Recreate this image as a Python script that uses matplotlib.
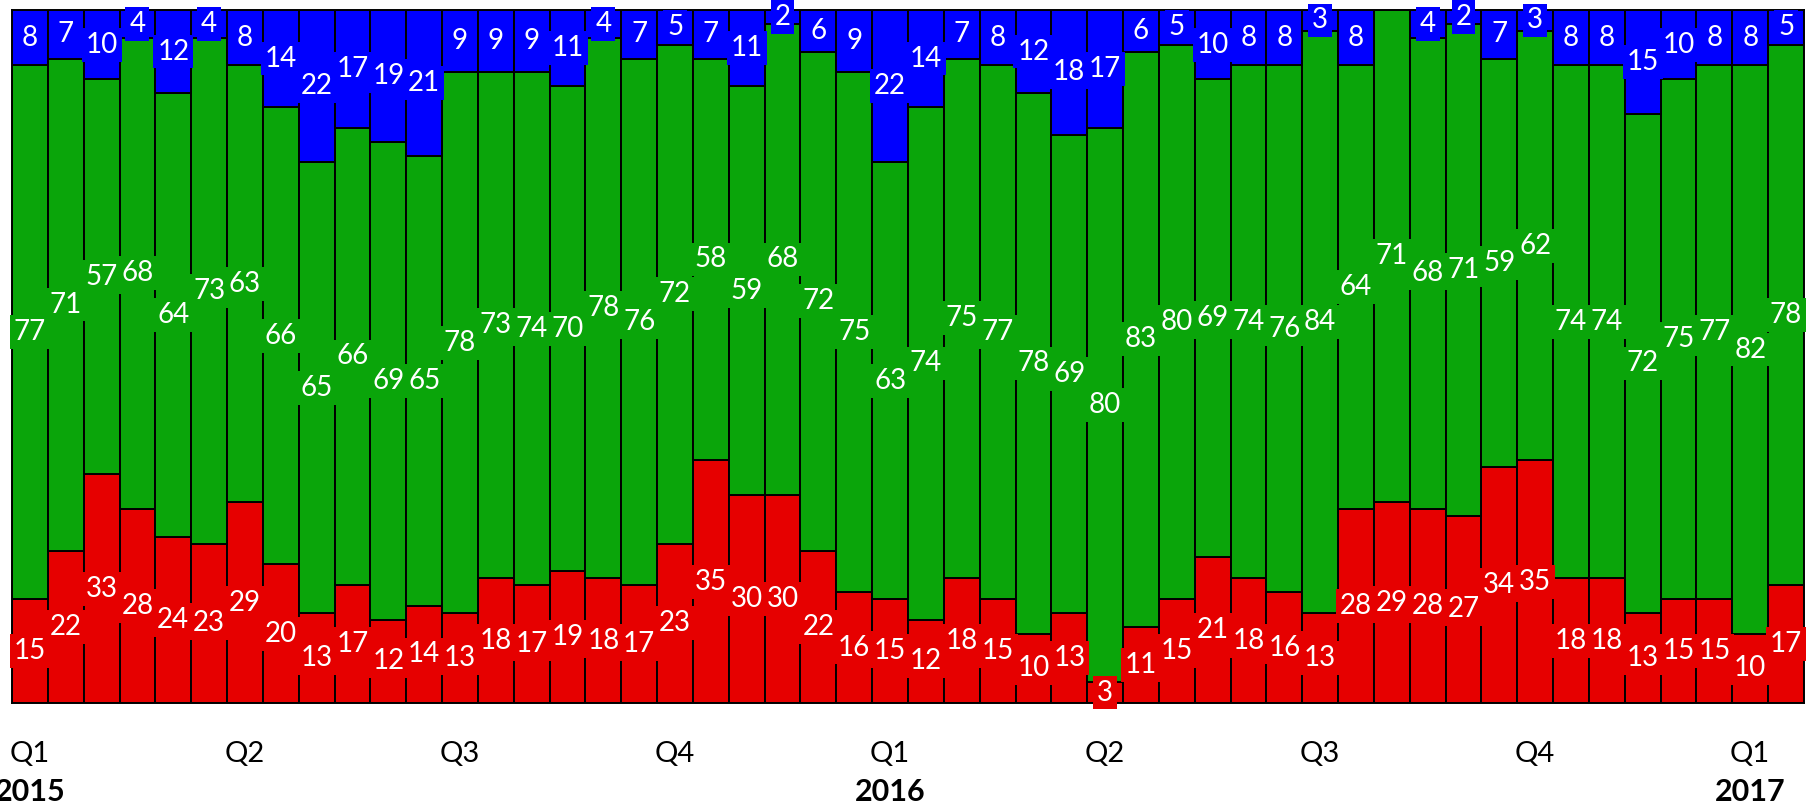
import matplotlib
matplotlib.use("Agg")
import matplotlib.pyplot as plt
import matplotlib.transforms as mtransforms
import numpy as np

# bottom to top: red, green, blue (percent of each bar)
red = [15, 22, 33, 28, 24, 23, 29, 20, 13, 17, 12, 14, 13, 18, 17, 19, 18, 17, 23, 35,
       30, 30, 22, 16, 15, 12, 18, 15, 10, 13, 3, 11, 15, 21, 18, 16, 13, 28, 29, 28,
       27, 34, 35, 18, 18, 13, 15, 15, 10, 17]
green = [77, 71, 57, 68, 64, 73, 63, 66, 65, 66, 69, 65, 78, 73, 74, 70, 78, 76, 72, 58,
         59, 68, 72, 75, 63, 74, 75, 77, 78, 69, 80, 83, 80, 69, 74, 76, 84, 64, 71, 68,
         71, 59, 62, 74, 74, 72, 75, 77, 82, 78]
blue = [8, 7, 10, 4, 12, 4, 8, 14, 22, 17, 19, 21, 9, 9, 9, 11, 4, 7, 5, 7,
        11, 2, 6, 9, 22, 14, 7, 8, 12, 18, 17, 6, 5, 10, 8, 8, 3, 8, 0, 4,
        2, 7, 3, 8, 8, 15, 10, 8, 8, 5]

quarter_pos = [0, 6, 12, 18, 24, 30, 36, 42, 48]
quarter_labels = ["Q1", "Q2", "Q3", "Q4", "Q1", "Q2", "Q3", "Q4", "Q1"]
year_pos = [0, 24, 48]
year_labels = ["2015", "2016", "2017"]

RED = "#e60000"
GREEN = "#0aa50a"
BLUE = "#0000ff"

plt.rcParams["font.family"] = ["Lato", "DejaVu Sans"]

fig = plt.figure(figsize=(18.1, 8.06), dpi=100)
ax = fig.add_axes([12 / 1810, 103 / 806, 1792 / 1810, 693 / 806])

x = np.arange(len(red))
r = np.array(red)
g = np.array(green)
b = np.array(blue)

for vals, bottom, col in [(r, 0, RED), (g, r, GREEN), (b, r + g, BLUE)]:
    ax.bar(x, vals, bottom=bottom, width=1.0, color=col, edgecolor="black", linewidth=1.4)
    for xi, v, bt in zip(x, vals, np.broadcast_to(bottom, vals.shape)):
        if v <= 0:
            continue
        ax.text(xi, bt + v / 2, str(v), ha="center", va="center", color="white",
                fontsize=20, zorder=5, clip_on=False,
                bbox=dict(boxstyle="square,pad=0.14", fc=col, ec="none"))

ax.set_xlim(-0.5, len(red) - 0.5)
ax.set_ylim(0, 100)
ax.set_yticks([])
ax.set_xticks(quarter_pos)
ax.set_xticklabels(quarter_labels, fontsize=21)
ax.tick_params(axis="x", length=0, pad=27)
for s in ax.spines.values():
    s.set_linewidth(1.4)

trans = mtransforms.blended_transform_factory(ax.transData, fig.transFigure)
for xp, lab in zip(year_pos, year_labels):
    ax.text(xp, 14 / 806, lab, transform=trans, ha="center", va="center",
            fontsize=22, fontweight="bold")

fig.savefig("out.png", dpi=100)
